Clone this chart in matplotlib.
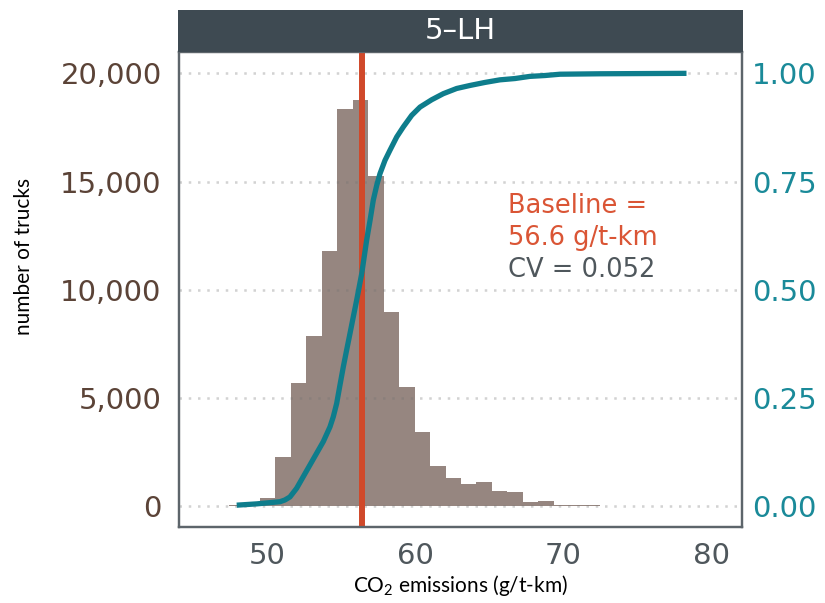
import numpy as np
import matplotlib
matplotlib.use("Agg")
import matplotlib.pyplot as plt
from matplotlib.patches import Rectangle

# ---------------- data ----------------
panel_title = "5\u2013LH"
bin_start = 47.44          # left edge of first histogram bin (g/t-km)
bin_width = 1.043
counts = [70, 80, 380, 2270, 5690, 7855, 11780, 18330, 18760, 15265,
          8990, 5480, 3400, 1850, 1280, 1000, 1110, 705, 630, 170,
          230, 60, 45, 50, 15, 15, 15, 15, 15, 15]

cdf_x = [47.96, 49.31, 50.88, 51.21, 51.55, 52.00, 52.45, 52.90, 53.35, 53.80,
         54.25, 54.47, 54.70, 54.92, 55.15, 55.37, 55.60, 55.82, 56.05, 56.39,
         56.72, 56.95, 57.17, 57.40, 57.62, 57.96, 58.29, 58.75, 59.19, 59.76,
         60.32, 61.11, 61.89, 62.79, 63.69, 64.70, 65.71, 66.72, 67.73, 68.75,
         69.76, 72.45, 78.29]
cdf_y = [0.002, 0.005, 0.010, 0.014, 0.021, 0.041, 0.068, 0.095, 0.122, 0.149,
         0.183, 0.206, 0.237, 0.279, 0.322, 0.360, 0.399, 0.437, 0.476, 0.537,
         0.614, 0.660, 0.707, 0.741, 0.768, 0.799, 0.822, 0.853, 0.876, 0.903,
         0.922, 0.939, 0.953, 0.965, 0.972, 0.979, 0.985, 0.988, 0.993, 0.995,
         0.998, 0.999, 1.000]

baseline_x = 56.4
x_ticks = [50, 60, 70, 80]
y_ticks = [0, 5000, 10000, 15000, 20000]
y_ticklabels = ["0", "5,000", "10,000", "15,000", "20,000"]
y2_ticks = [0.0, 0.25, 0.5, 0.75, 1.0]
y2_ticklabels = ["0.00", "0.25", "0.50", "0.75", "1.00"]
annot_lines = ["Baseline =", "56.6 g/t-km", "CV = 0.052"]

# ---------------- styling ----------------
BAR = "#968680"
TEAL = "#0e7d8c"
TEAL_TXT = "#1a8a99"
RED = "#d0492a"
RED_TXT = "#da5535"
BROWN = "#5b4337"
GRAY_TXT = "#4f575c"
FRAME = "#5d656b"
STRIP = "#3e4a52"
FONT = "DejaVu Sans"
LFONT = "Lato"

plt.rcParams["mathtext.fontset"] = "custom"
plt.rcParams["mathtext.rm"] = LFONT

fig = plt.figure(figsize=(8.25, 6.03), dpi=100)
ax = fig.add_axes([0.2170, 0.1260, 0.6818, 0.7877])

centers = bin_start + bin_width * (np.arange(len(counts)) + 0.5)
ax.bar(centers, counts, width=bin_width, color=BAR, linewidth=0, zorder=2)

ax.set_xlim(44.07, 82.0)
ax.set_ylim(-970, 20985)

# dotted horizontal grid
for yv in y_ticks:
    ax.axhline(yv, color=(0.45, 0.45, 0.45, 0.32), lw=1.8,
               linestyle=(0, (1.0, 2.7)), dash_capstyle="butt", zorder=3)

ax.axvline(baseline_x, color=RED, lw=4.3, zorder=4)

ax2 = ax.twinx()
ax2.set_ylim(-970 / 20000, 20985 / 20000)
ax2.plot(cdf_x, cdf_y, color=TEAL, lw=3.8, solid_capstyle="butt",
         solid_joinstyle="round", zorder=5)

ax.set_xticks(x_ticks)
ax.set_xticklabels([str(v) for v in x_ticks])
ax.set_yticks(y_ticks)
ax.set_yticklabels(y_ticklabels)
ax2.set_yticks(y2_ticks)
ax2.set_yticklabels(y2_ticklabels)

ax.tick_params(axis="x", length=0, pad=10.5, labelsize=21, labelcolor=GRAY_TXT)
ax.tick_params(axis="y", length=0, pad=12.5, labelsize=21, labelcolor=BROWN)
ax2.tick_params(axis="y", length=0, pad=7.5, labelsize=21, labelcolor=TEAL_TXT)
for lab in ax.get_xticklabels() + ax.get_yticklabels() + ax2.get_yticklabels():
    lab.set_family(FONT)

for a in (ax, ax2):
    for s in a.spines.values():
        s.set_color(FRAME)
        s.set_linewidth(1.6)

# annotations
ax.text(66.25, 13543, annot_lines[0], color=RED_TXT, fontsize=18.5,
        family=FONT, va="baseline", ha="left", zorder=6)
ax.text(66.25, 12064, annot_lines[1], color=RED_TXT, fontsize=18.5,
        family=FONT, va="baseline", ha="left", zorder=6)
ax.text(66.25, 10600, annot_lines[2], color=GRAY_TXT, fontsize=18.5,
        family=FONT, va="baseline", ha="left", zorder=6)

# strip header
fig.patches.append(Rectangle((178 / 825, 1 - 52 / 603), (743 - 178) / 825, 42 / 603,
                             transform=fig.transFigure, facecolor=STRIP,
                             edgecolor="none", zorder=10))
fig.text(460 / 825, 1 - 31 / 603, panel_title, color="white", fontsize=21,
         family=FONT, ha="center", va="center", zorder=11)

# axis labels
fig.text(24 / 825, 1 - 256 / 603, "number of trucks", rotation=90, fontsize=15,
         family=LFONT, ha="center", va="center", color="black")
fig.text(460 / 825, 1 - 586 / 603, "CO$_2$ emissions (g/t-km)", fontsize=15,
         family=LFONT, ha="center", va="center", color="black")

fig.savefig("out.png", dpi=100, facecolor="white")
